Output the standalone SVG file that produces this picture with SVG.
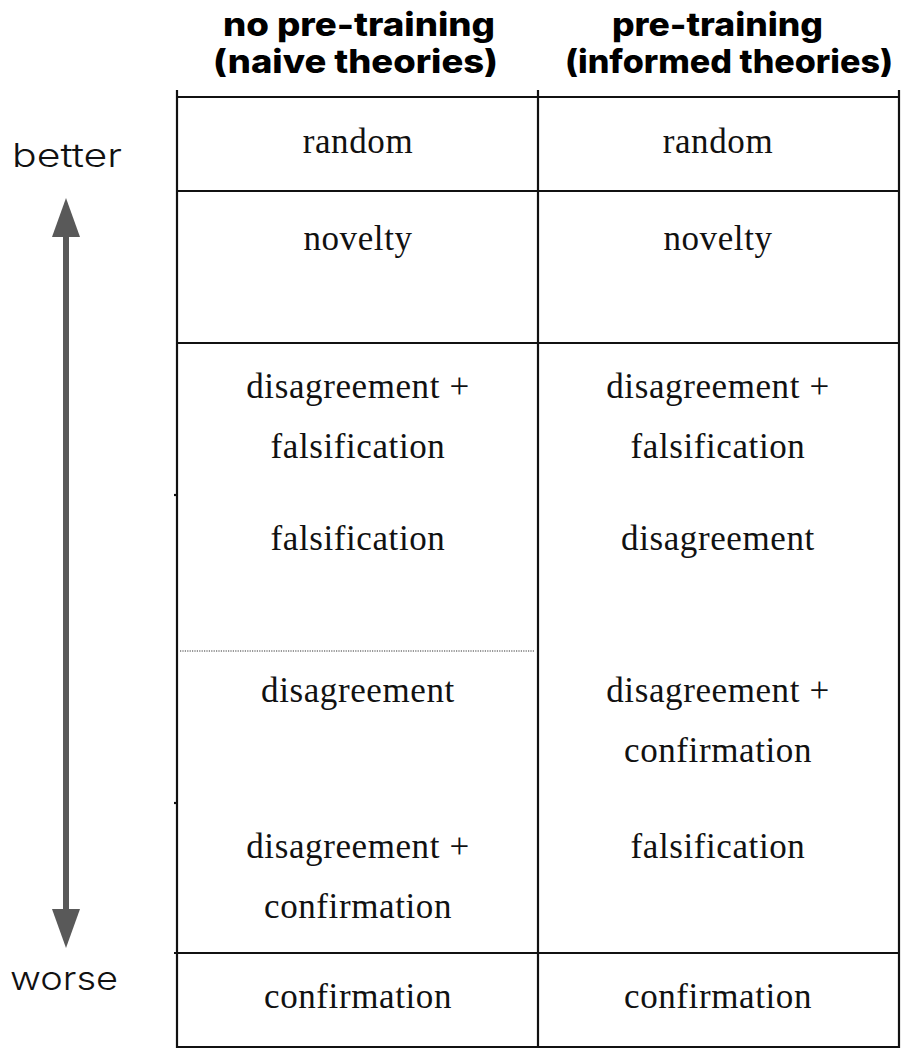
<svg xmlns="http://www.w3.org/2000/svg" width="903" height="1050" viewBox="0 0 903 1050">
  <style>
    .head { font-family: Inter, "Open Sans", "DejaVu Sans", sans-serif; font-weight: 800; font-size: 32px; fill: #000; }
    .side { font-family: Inter, "Open Sans", "DejaVu Sans", sans-serif; font-weight: 300; font-size: 33px; fill: #111; }
    .cell { font-family: "Liberation Serif", "DejaVu Serif", serif; font-size: 35px; fill: #111; text-anchor: middle; letter-spacing: 0.6px; }
    .rule { stroke: #111; stroke-width: 2.2; fill: none; }
  </style>

  <!-- column headers -->
  <g id="header-left">
    <text class="head" x="223" y="36" textLength="272" lengthAdjust="spacingAndGlyphs">no pre-training</text>
    <text class="head" x="213" y="73" textLength="285" lengthAdjust="spacingAndGlyphs">(naive theories)</text>
  </g>
  <g id="header-right">
    <text class="head" x="612" y="36" textLength="211" lengthAdjust="spacingAndGlyphs">pre-training</text>
    <text class="head" x="565" y="73" textLength="328" lengthAdjust="spacingAndGlyphs">(informed theories)</text>
  </g>

  <!-- scale on the left -->
  <g id="scale">
    <text class="side" x="12" y="167" textLength="110" lengthAdjust="spacingAndGlyphs">better</text>
    <text class="side" x="10" y="990" textLength="108" lengthAdjust="spacingAndGlyphs">worse</text>
  </g>
  <g id="connectors">
    <line x1="66" y1="230" x2="66" y2="915" stroke="#595959" stroke-width="6"/>
    <path d="M66,198 L80,237 L52,237 Z" fill="#595959"/>
    <path d="M66,948 L80,909 L52,909 Z" fill="#595959"/>
  </g>

  <!-- table grid -->
  <g id="grid">
    <line class="rule" x1="177" y1="90" x2="177" y2="1048"/>
    <line class="rule" x1="538" y1="90" x2="538" y2="1048"/>
    <line class="rule" x1="899" y1="90" x2="899" y2="1048"/>
    <line class="rule" x1="176" y1="97" x2="900" y2="97"/>
    <line class="rule" x1="176" y1="191" x2="900" y2="191"/>
    <line class="rule" x1="176" y1="343" x2="900" y2="343"/>
    <line class="rule" x1="174" y1="953" x2="900" y2="953"/>
    <line class="rule" x1="176" y1="1047" x2="900" y2="1047"/>
    <line class="rule" x1="174" y1="495" x2="177" y2="495"/>
    <line class="rule" x1="174" y1="803" x2="177" y2="803"/>
    <line x1="180" y1="651" x2="535" y2="651" stroke="#333" stroke-width="1.2" stroke-dasharray="1.2 1.2"/>
  </g>

  <!-- left column entries -->
  <g id="left-random"><text class="cell" x="358" y="153">random</text></g>
  <g id="left-novelty"><text class="cell" x="358" y="250">novelty</text></g>
  <g id="left-dis-fals">
    <text class="cell" x="358" y="398">disagreement +</text>
    <text class="cell" x="358" y="458">falsification</text>
  </g>
  <g id="left-fals"><text class="cell" x="358" y="550">falsification</text></g>
  <g id="left-dis"><text class="cell" x="358" y="702">disagreement</text></g>
  <g id="left-dis-conf">
    <text class="cell" x="358" y="858">disagreement +</text>
    <text class="cell" x="358" y="918">confirmation</text>
  </g>
  <g id="left-conf"><text class="cell" x="358" y="1008">confirmation</text></g>

  <!-- right column entries -->
  <g id="right-random"><text class="cell" x="718" y="153">random</text></g>
  <g id="right-novelty"><text class="cell" x="718" y="250">novelty</text></g>
  <g id="right-dis-fals">
    <text class="cell" x="718" y="398">disagreement +</text>
    <text class="cell" x="718" y="458">falsification</text>
  </g>
  <g id="right-dis"><text class="cell" x="718" y="550">disagreement</text></g>
  <g id="right-dis-conf">
    <text class="cell" x="718" y="702">disagreement +</text>
    <text class="cell" x="718" y="762">confirmation</text>
  </g>
  <g id="right-fals"><text class="cell" x="718" y="858">falsification</text></g>
  <g id="right-conf"><text class="cell" x="718" y="1008">confirmation</text></g>
</svg>
